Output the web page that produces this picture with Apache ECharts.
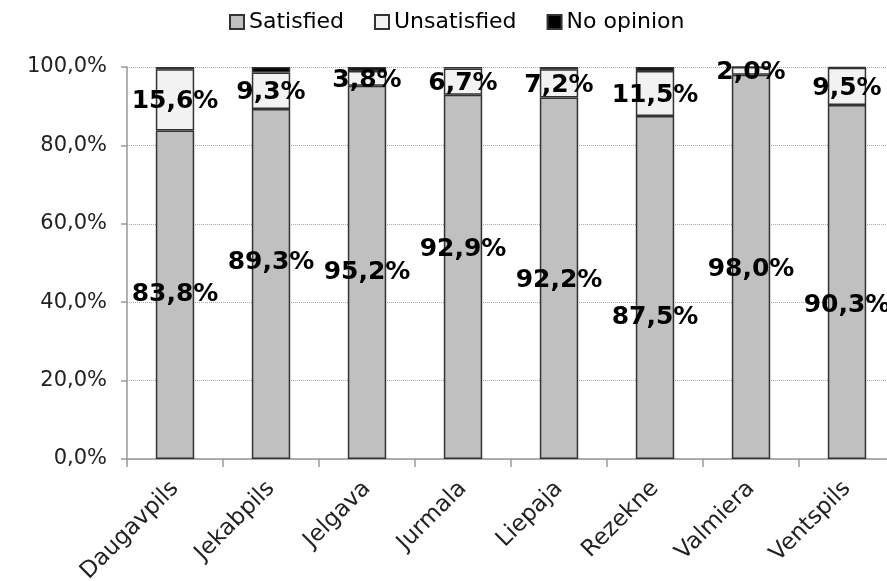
<!DOCTYPE html>
<html>
<head>
<meta charset="utf-8">
<script src="https://cdn.jsdelivr.net/npm/echarts@6/dist/echarts.min.js"></script>
<style>
html,body{margin:0;padding:0;background:#fff;}
#main{width:887px;height:581px;}
</style>
</head>
<body>
<div id="main"></div>
<script>
// Data
const cities = ['Daugavpils','Jekabpils','Jelgava','Jurmala','Liepaja','Rezekne','Valmiera','Ventspils'];
const satisfied = [83.8, 89.3, 95.2, 92.9, 92.2, 87.5, 98.0, 90.3];
const unsatisfied = [15.6, 9.3, 3.8, 6.7, 7.2, 11.5, 2.0, 9.5];
const noOpinion = [0.6, 1.4, 1.0, 0.4, 0.6, 1.0, 0.0, 0.2];
const seriesNames = ['Satisfied','Unsatisfied','No opinion'];
// vertical nudges of the "Satisfied" labels (manually moved in the original)
const satLabelShift = [0, -21, 0, -27, 2, 30, 3, 23];

const fmt = v => v.toFixed(1).replace('.', ',') + '%';
const border = {borderColor:'#333', borderWidth:1.5};
const labelFont = {fontFamily:'DejaVu Sans', fontWeight:'bold', fontSize:25, color:'#000', textBorderWidth:0};

const chart = echarts.init(document.getElementById('main'), null, {renderer:'canvas'});
chart.setOption({
  animation:false,
  backgroundColor:'#fff',
  legend:{
    data:seriesNames,
    top:6, left:224,
    itemWidth:14, itemHeight:14, itemGap:30,
    icon:'rect',
    textStyle:{fontFamily:'DejaVu Sans', fontSize:22, color:'#000'}
  },
  grid:{left:127, right:-8, top:67, bottom:122, containLabel:false, outerBoundsMode:'none'},
  xAxis:{
    type:'category',
    data:cities,
    boundaryGap:true,
    axisLine:{lineStyle:{color:'#999', width:1.5}},
    axisTick:{show:true, alignWithLabel:false, length:8, lineStyle:{color:'#999', width:1.5}},
    axisLabel:{rotate:45, margin:26, fontFamily:'DejaVu Sans', fontSize:23, color:'#222', interval:0}
  },
  yAxis:{
    type:'value',
    min:0, max:100, interval:20,
    axisLine:{show:true, lineStyle:{color:'#999', width:1.5}},
    axisTick:{show:true, length:6, lineStyle:{color:'#999', width:1.5}},
    splitLine:{show:true, lineStyle:{color:'#aaa', type:'dotted', width:1}},
    axisLabel:{formatter:fmt, margin:20, fontFamily:'DejaVu Sans', fontSize:21, color:'#222'}
  },
  series:[
    {
      name:seriesNames[0], type:'bar', stack:'s', barWidth:'40%',
      itemStyle:Object.assign({color:'#c0c0c0'}, border),
      label:Object.assign({show:true, position:'inside', formatter:p => fmt(p.value)}, labelFont),
      data:satisfied.map((v,i) => ({value:v, label:{offset:[0, satLabelShift[i]]}}))
    },
    {
      name:seriesNames[1], type:'bar', stack:'s', barWidth:'40%',
      itemStyle:Object.assign({color:'#f2f2f2'}, border),
      label:Object.assign({show:true, position:'inside', offset:[0,2], formatter:p => fmt(p.value)}, labelFont),
      data:unsatisfied
    },
    {
      name:seriesNames[2], type:'bar', stack:'s', barWidth:'40%',
      itemStyle:Object.assign({color:'#000'}, border),
      label:{show:false},
      data:noOpinion
    }
  ]
});
</script>
</body>
</html>
